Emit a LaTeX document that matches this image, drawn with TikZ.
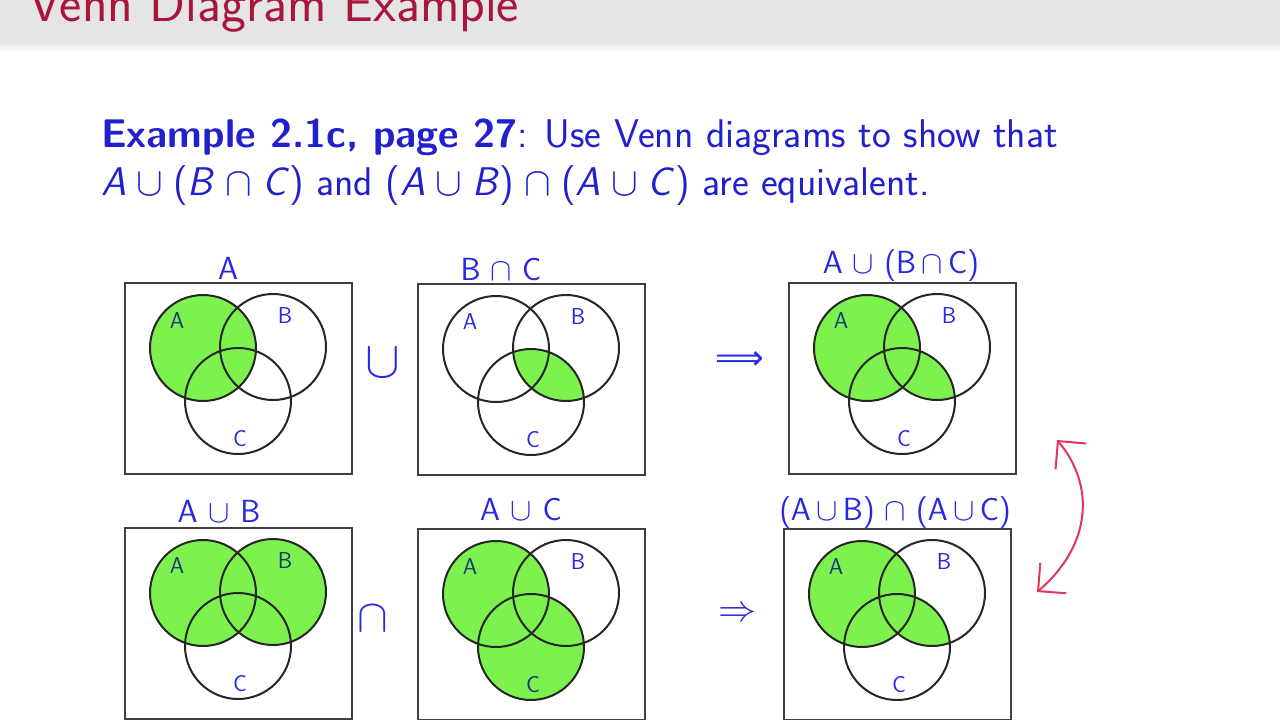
\documentclass[tikz,border=0pt]{standalone}
\usepackage{fix-cm}
\usepackage{fontspec}
\newfontfamily\symfont{DejaVu Sans}
\usetikzlibrary{arrows.meta}
\definecolor{titlered}{RGB}{168,22,62}
\definecolor{txtblue}{RGB}{32,32,205}
\definecolor{hand}{RGB}{40,40,225}
\definecolor{handdark}{RGB}{25,55,120}
\definecolor{vgreen}{RGB}{125,242,78}
\definecolor{barg}{RGB}{229,229,229}
\definecolor{penred}{RGB}{225,55,90}
\newcommand\mv[1]{\textit{#1}}
\newcommand\bop[1]{${}\mskip0.6mu#1\mskip0.6mu{}$}
\newcommand\vennpts[3]{%
  \path (#2,#3) ++(79,66) coordinate (#1A)
        (#2,#3) ++(149,65) coordinate (#1B)
        (#2,#3) ++(114,119) coordinate (#1C);}
\newcommand\venndraw[6]{%
  \node[box] (#1) at (#2,#3) {};
  \node[ring] (#1rA) at (#1A) {};
  \node[ring] (#1rB) at (#1B) {};
  \node[ring] (#1rC) at (#1C) {};
  \path (#2,#3) ++(53,39) node[inlab,text=#4] (#1lA) {A};
  \path (#2,#3) ++(161,34) node[inlab,text=#5] (#1lB) {B};
  \path (#2,#3) ++(116,157) node[inlab,text=#6] (#1lC) {C};}
\begin{document}
\begin{tikzpicture}[x=1pt,y=-1pt,
  box/.style={draw=black!75, line width=2.2pt, minimum width=227pt, minimum height=191pt, anchor=north west, inner sep=0pt},
  ring/.style={draw=black!85, line width=2pt, circle, minimum size=106pt, inner sep=0pt},
  inlab/.style={font=\sffamily\fontsize{23}{23}\selectfont, inner sep=0pt},
  toplab/.style={text=hand, font=\sffamily\fontsize{32}{32}\selectfont, inner sep=0pt},
  opsym/.style={text=hand, inner sep=0pt},
  body/.style={text=txtblue, font=\sffamily\fontsize{40}{48}\selectfont, anchor=base west, inner sep=0pt}]
\useasboundingbox (0,0) rectangle (1280,720);
\fill[white] (0,0) rectangle (1280,720);
% title bar
\fill[barg] (0,0) rectangle (1280,42);
\shade[top color=barg, bottom color=white] (0,42) rectangle (1280,52);
\node[anchor=base west, text=titlered, font=\sffamily\fontsize{53}{53}\selectfont, inner sep=0pt] (title) at (28,21) {Venn Diagram Example};
% body text
\node[body] (l1) at (101,147) {\textbf{Example 2.1c, page 27}: Use Venn diagrams to show that};
\node[body] (l2) at (101,195) {\mv{A}\bop{\cup}(\mv{B}\bop{\cap}\mv{C}) and (\mv{A}\bop{\cup}\mv{B})\bop{\cap}(\mv{A}\bop{\cup}\mv{C}) are equivalent.};
% box 1 : A
\vennpts{b1}{124}{282}
\fill[vgreen] (b1A) circle (53pt);
\venndraw{b1}{124}{282}{handdark}{hand}{hand}
% box 2 : B cap C
\vennpts{b2}{417}{283}
\begin{scope}\clip (b2B) circle (53pt); \fill[vgreen] (b2C) circle (53pt);\end{scope}
\venndraw{b2}{417}{283}{hand}{hand}{hand}
% box 3 : A cup (B cap C)
\vennpts{b3}{788}{282}
\fill[vgreen] (b3A) circle (53pt);
\begin{scope}\clip (b3B) circle (53pt); \fill[vgreen] (b3C) circle (53pt);\end{scope}
\venndraw{b3}{788}{282}{handdark}{hand}{hand}
% box 4 : A cup B
\vennpts{b4}{124}{527}
\fill[vgreen] (b4A) circle (53pt);
\fill[vgreen] (b4B) circle (53pt);
\venndraw{b4}{124}{527}{handdark}{handdark}{hand}
% box 5 : A cup C
\vennpts{b5}{417}{528}
\fill[vgreen] (b5A) circle (53pt);
\fill[vgreen] (b5C) circle (53pt);
\venndraw{b5}{417}{528}{handdark}{hand}{handdark}
% box 6 : (A cup B) cap (A cup C)
\vennpts{b6}{783}{528}
\fill[vgreen] (b6A) circle (53pt);
\begin{scope}\clip (b6B) circle (53pt); \fill[vgreen] (b6C) circle (53pt);\end{scope}
\venndraw{b6}{783}{528}{handdark}{hand}{hand}
% labels above boxes
\node[toplab] (t1) at (228,268) {A};
\node[toplab] (t2) at (501,270) {B $\cap$ C};
\node[toplab] (t3) at (901,266) {A $\cup$ (B\,$\cap$\,C)};
\node[toplab] (t4) at (219,511) {A\,\,$\cup$\,\,B};
\node[toplab] (t5) at (521,510) {A\,\,$\cup$\,\,C};
\node[toplab] (t6) at (895,513) {(A\,$\cup$\,B) $\cap$ (A\,$\cup$\,C)};
% operators
\node[opsym, font=\fontsize{52}{52}\selectfont] (cup) at (383,363) {$\cup$};
\node[opsym, font=\fontsize{46}{46}\selectfont] (cap) at (373,619) {$\cap$};
\node[opsym, font=\symfont\fontsize{34}{34}\selectfont] (imp1) at (740,361) {⟹};
\node[opsym, font=\fontsize{38}{38}\selectfont] (imp2) at (737,615) {$\Rightarrow$};
% red double arrow
\coordinate (rtop) at (1057,440);
\coordinate (rbot) at (1037,592);
\draw[penred, line width=2pt, {Straight Barb[length=20pt,width=40pt]}-{Straight Barb[length=20pt,width=40pt]}]
  (rtop) .. controls (1095,485) and (1092,545) .. (rbot);
\end{tikzpicture}
\end{document}
